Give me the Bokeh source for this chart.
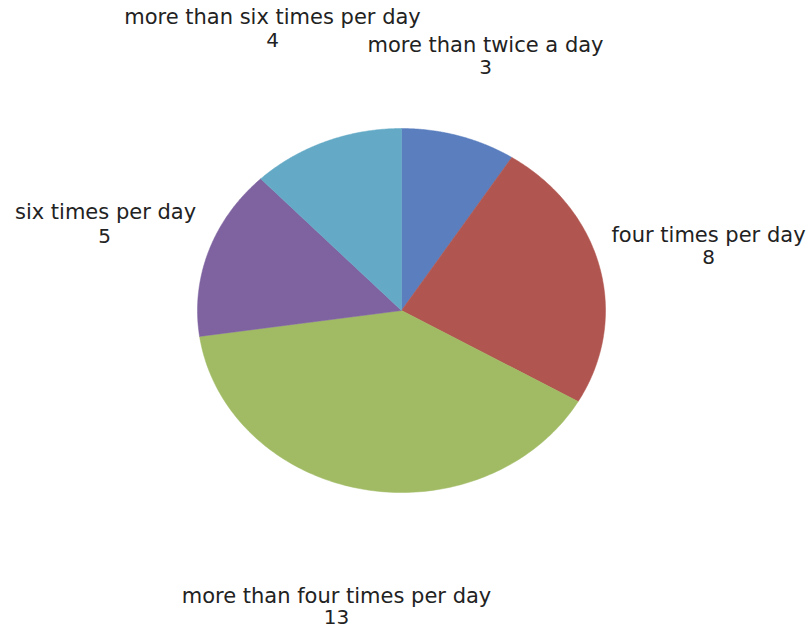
import numpy as np
from bokeh.plotting import figure
from bokeh.models import Range1d, ColumnDataSource
from bokeh.core.properties import value
from bokeh.embed import file_html
from bokeh.resources import INLINE

# Data
categories = ["more than twice a day", "four times per day", "more than four times per day",
              "six times per day", "more than six times per day"]
counts = [3, 8, 13, 5, 4]
colors = ["#5A7EBE", "#B0554F", "#A0BB64", "#7E63A0", "#64AAC6"]

# Layout (pixel-like coordinates)
CX, CY, RX, RY = 401, 310, 204, 182
label_x = [485, 708, 336, 105, 272]
label_y = [44, 234, 595, 211, 16]
num_dx = [0, 0, 0, -1, 0]
num_dy = [22, 22, 21, 24, 23]

p = figure(width=808, height=627, output_backend="svg", toolbar_location=None,
           x_range=Range1d(0, 808), y_range=Range1d(627, 0), min_border=0)
p.axis.visible = False
p.grid.visible = False
p.outline_line_color = None
p.background_fill_color = "white"
p.border_fill_color = "white"

total = float(sum(counts))
fr = np.cumsum([0] + counts) / total
xs, ys = [], []
for i in range(len(counts)):
    t = np.linspace(fr[i], fr[i + 1], 120) * 2 * np.pi
    xs.append([CX] + list(CX + RX * np.sin(t)) + [CX])
    ys.append([CY] + list(CY - RY * np.cos(t)) + [CY])

p.patches(xs=xs, ys=ys, fill_color=colors, line_color=colors, line_width=0.5)

src = ColumnDataSource(dict(x=label_x, y=label_y, name=categories,
                            nx=[a + b for a, b in zip(label_x, num_dx)],
                            ny=[a + b for a, b in zip(label_y, num_dy)],
                            num=[str(c) for c in counts]))
p.text(x="x", y="y", text="name", source=src, text_font=value("DejaVu Sans"),
       text_font_size="21px", text_align="center", text_baseline="middle",
       text_color="#222222")
p.text(x="nx", y="ny", text="num", source=src, text_font=value("DejaVu Sans"),
       text_font_size="20px", text_align="center", text_baseline="middle",
       text_color="#222222")

open("out.html", "w").write(file_html(p, INLINE))
